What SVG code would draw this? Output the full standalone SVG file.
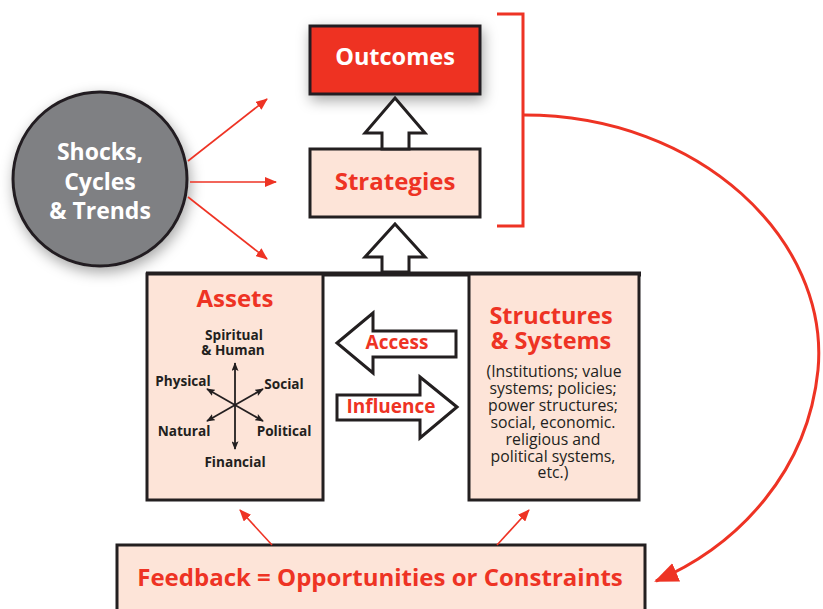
<svg xmlns="http://www.w3.org/2000/svg" width="823" height="609" viewBox="0 0 823 609">
<defs>
<filter id="sh" x="-30%" y="-30%" width="160%" height="160%">
<feDropShadow dx="2" dy="5" stdDeviation="7" flood-color="#000" flood-opacity="0.35"/>
</filter>
<marker id="ra" viewBox="0 0 12 10" refX="11" refY="5" markerWidth="12" markerHeight="10" markerUnits="userSpaceOnUse" orient="auto">
<path d="M0,0 L12,5 L0,10 Z" fill="#ee3324"/>
</marker>
<marker id="big" viewBox="0 0 24 20" refX="22" refY="10" markerWidth="24" markerHeight="20" markerUnits="userSpaceOnUse" orient="auto">
<path d="M0,0 L24,10 L0,20 Z" fill="#ee3324"/>
</marker>
<marker id="ka" viewBox="0 0 10 8" refX="9" refY="4" markerWidth="9" markerHeight="7" markerUnits="userSpaceOnUse" orient="auto">
<path d="M0,0 L10,4 L0,8 L2,4 Z" fill="#231f20"/>
</marker>
</defs>
<style>
.box{stroke:#231f20;stroke-width:3}
.peach{fill:#fde4d8}
.t{font-family:"Open Sans","Liberation Sans",sans-serif;font-weight:bold;text-anchor:middle;dominant-baseline:central}
.red{fill:#ee3324}
.blk{fill:#231f20}
.wh{fill:#fff}
.lb{font-size:13.6px}
.reg{font-family:"Open Sans","Liberation Sans",sans-serif;font-size:15.8px;text-anchor:middle;fill:#231f20;dominant-baseline:central}
.hol{fill:#fff;stroke:#231f20;stroke-width:3;stroke-linejoin:miter}
.rl{stroke:#ee3324;stroke-width:1.6;fill:none}
.kl{stroke:#231f20;stroke-width:1.8;fill:none}
</style>

<g id="shocks">
<circle cx="100" cy="179" r="87" fill="#7f8083" stroke="#231f20" stroke-width="3" filter="url(#sh)"/>
<text class="t wh" x="100" y="151" font-size="23">Shocks,</text>
<text class="t wh" x="100" y="181" font-size="23">Cycles</text>
<text class="t wh" x="100" y="210" font-size="23">&amp; Trends</text>
</g>

<g id="outcomes">
<rect class="box" x="310" y="26" width="170" height="68" fill="#ee3324" filter="url(#sh)"/>
<text class="t wh" x="395" y="56" font-size="23.5">Outcomes</text>
</g>

<g id="strategies">
<rect class="box peach" x="310" y="149" width="170" height="68"/>
<text class="t red" x="395" y="180" font-size="24">Strategies</text>
</g>

<g id="bar">
<line x1="146" y1="274" x2="641" y2="274" stroke="#231f20" stroke-width="5"/>
</g>

<g id="assets">
<rect class="box peach" x="147" y="274" width="176" height="226"/>
<text class="t red" x="235" y="297" font-size="24">Assets</text>
<text class="t blk lb" x="234" y="334">Spiritual</text>
<text class="t blk lb" x="233" y="349">&amp; Human</text>
<text class="t blk lb" x="183" y="380">Physical</text>
<text class="t blk lb" x="284" y="383">Social</text>
<text class="t blk lb" x="184" y="430">Natural</text>
<text class="t blk lb" x="284" y="430">Political</text>
<text class="t blk lb" x="235" y="461">Financial</text>
</g>

<g id="structures">
<rect class="box peach" x="469" y="274" width="170" height="226"/>
<text class="t red" x="551" y="315" font-size="23.5">Structures</text>
<text class="t red" x="551" y="340" font-size="23.5">&amp; Systems</text>
<text class="reg" x="554" y="371">(Institutions; value</text>
<text class="reg" x="553" y="388">systems; policies;</text>
<text class="reg" x="553" y="405">power structures;</text>
<text class="reg" x="553" y="422">social, economic.</text>
<text class="reg" x="553" y="439">religious and</text>
<text class="reg" x="553" y="456">political systems,</text>
<text class="reg" x="553" y="472">etc.)</text>
</g>

<g id="feedback">
<rect class="box peach" x="117" y="545" width="528" height="70"/>
<text class="t red" x="380" y="576" font-size="24">Feedback = Opportunities or Constraints</text>
</g>

<g id="access">
<path class="hol" d="M337,343 L373,313 L373,331 L456,331 L456,357 L373,357 L373,373 Z"/>
<text class="t red" x="397" y="342" font-size="19">Access</text>
</g>

<g id="influence">
<path class="hol" d="M457,407 L420,377 L420,395 L337,395 L337,420 L420,420 L420,438 Z"/>
<text class="t red" x="391" y="406" font-size="19">Influence</text>
</g>

<g id="connectors">
<path class="hol" d="M395,98 L425,133 L409,133 L409,149 L382,149 L382,133 L365,133 Z"/>
<path class="hol" d="M395,224 L425,257 L409,257 L409,272 L382,272 L382,257 L365,257 Z"/>
<line class="rl" x1="188" y1="161" x2="267" y2="99" marker-end="url(#ra)"/>
<line class="rl" x1="190" y1="182" x2="276" y2="182" marker-end="url(#ra)"/>
<line class="rl" x1="188" y1="197" x2="267" y2="259" marker-end="url(#ra)"/>
<line class="rl" x1="272" y1="545" x2="240" y2="510" marker-end="url(#ra)"/>
<line class="rl" x1="497" y1="545" x2="529" y2="510" marker-end="url(#ra)"/>
<path d="M497,14 L523,14 L523,226 L497,226" fill="none" stroke="#ee3324" stroke-width="3"/>
<path d="M524,115 C700,115 830,240 818,370 C808,470 740,545 656,581" fill="none" stroke="#ee3324" stroke-width="3" marker-end="url(#big)"/>
<line class="kl" x1="235" y1="405" x2="235" y2="363" marker-end="url(#ka)"/>
<line class="kl" x1="235" y1="405" x2="235" y2="449" marker-end="url(#ka)"/>
<line class="kl" x1="235" y1="405" x2="207" y2="389" marker-end="url(#ka)"/>
<line class="kl" x1="235" y1="405" x2="263" y2="389" marker-end="url(#ka)"/>
<line class="kl" x1="235" y1="405" x2="207" y2="421" marker-end="url(#ka)"/>
<line class="kl" x1="235" y1="405" x2="263" y2="421" marker-end="url(#ka)"/>
</g>
</svg>
